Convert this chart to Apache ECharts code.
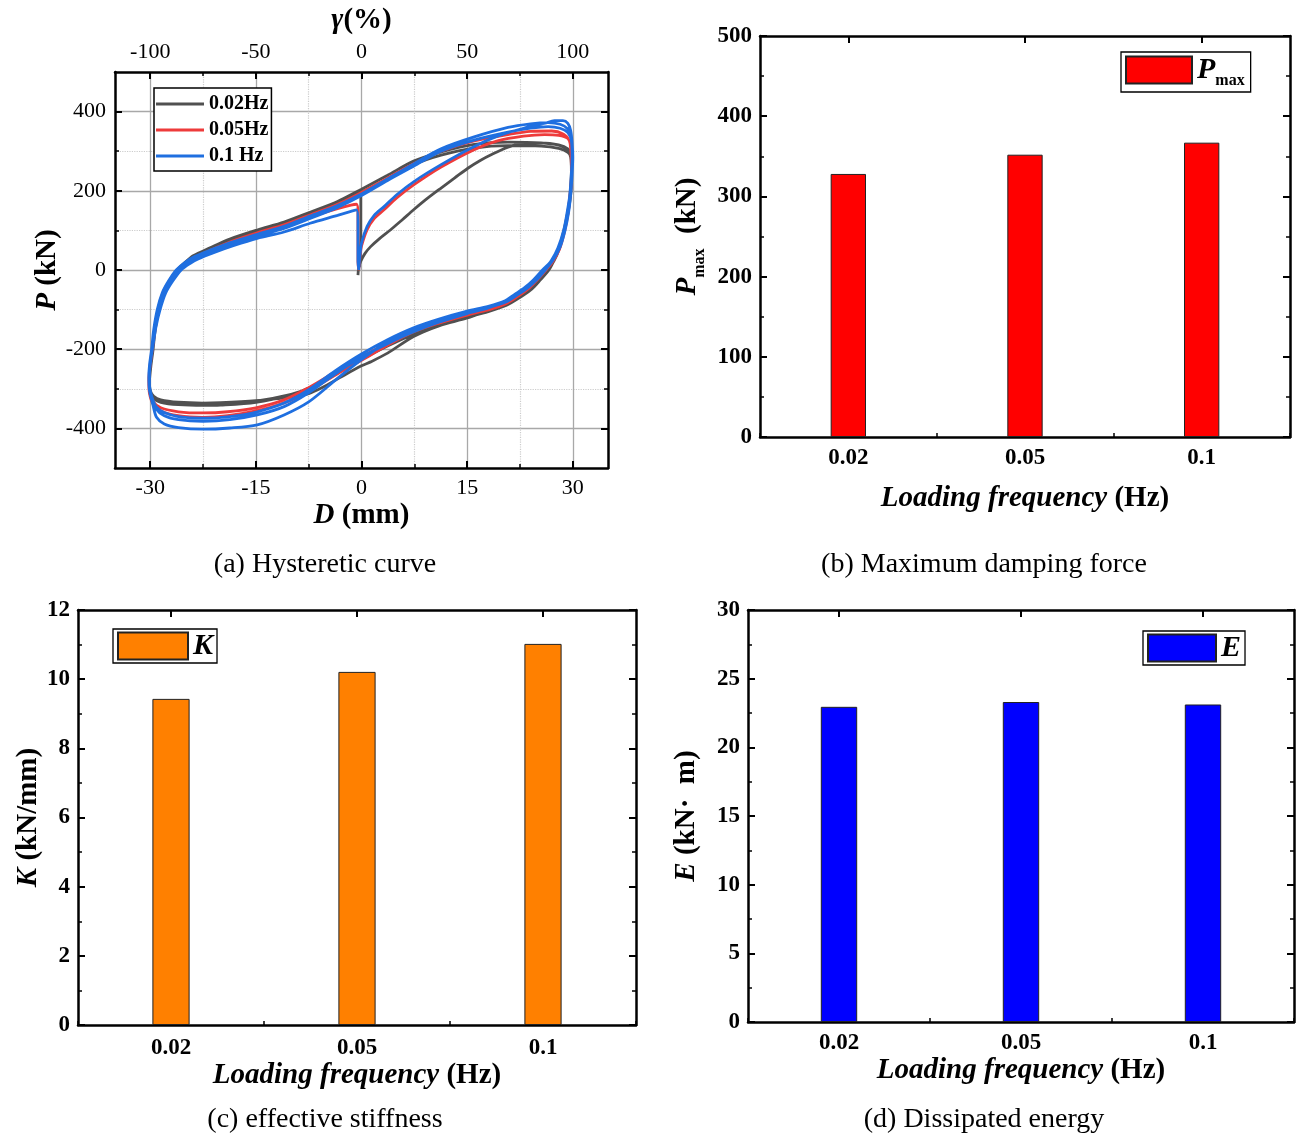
<!DOCTYPE html>
<html>
<head>
<meta charset="utf-8">
<script src="https://cdn.jsdelivr.net/npm/echarts@6/dist/echarts.min.js"></script>
<style>html,body{margin:0;padding:0;background:#fff}#c{width:1296px;height:1135px}</style>
</head>
<body>
<div id="c"></div>
<script>
// ---------- data ----------
const freqCategories = ['0.02', '0.05', '0.1'];
const pmaxValues = [328, 352, 367];
const kValues = [9.43, 10.21, 11.02];
const eValues = [22.95, 23.3, 23.12];

const dTicks = [-30, -15, 0, 15, 30];
const dMinorTicks = [-22.5, -7.5, 7.5, 22.5];
const pTicks = [-400, -200, 0, 200, 400];
const pMinorTicks = [-300, -100, 100, 300];

// hysteresis curves [D (mm), P (kN)]
const gray02 = [
[-0.5,-13],[-0.4,5],[-0.1,22],[0.5,42],[1.3,59],[2.6,80],[4.1,101],[5.8,127],[7.4,152],[9.3,180],[11.3,207],[13.2,232],[15.1,257],[16.8,276],[18.4,291],[20.8,310],[22.8,319],[25.5,321],[28,316],[29.3,306],[29.7,292],
[29.8,262],[29.8,222],[29.6,182],[29.3,142],[28.8,102],[28.2,62],[27.4,27],[26.6,0],[25.4,-25],[24.2,-48],[22.8,-66],[20.8,-86],[18,-102],[15,-121],[11,-141],[7.4,-168],[3.7,-210],[1.3,-232],[0,-242],[-3,-271],[-5.5,-296],[-7.5,-312],[-10,-321],[-15,-330],[-20,-335],[-22.5,-336],[-26,-334],[-28.5,-328],[-29.5,-319],[-30,-304],
[-30.1,-280],[-29.9,-240],[-29.6,-200],[-29.3,-150],[-28.9,-100],[-28.2,-58],[-27.3,-28],[-26.2,0],[-25,20],[-23.9,36],[-21.5,56],[-18.7,78],[-14.8,101],[-11,121],[-7.3,146],[-3.4,173],[0,204],[3.7,239],[7.4,275],[11.3,298],[16,317],[20.8,323],[25.5,321],[28,315],[29.3,304],[29.7,290],
[29.8,255],[29.8,215],[29.6,175],[29.2,135],[28.7,95],[28.1,55],[27.3,22],[26.4,0],[25.2,-26],[24,-50],[22.6,-68],[20.6,-89],[18,-105],[15,-119],[11,-138],[7.4,-162],[3.7,-192],[0,-226],[-3.4,-260],[-7.3,-300],[-10,-316],[-15,-334],[-20,-341],[-22.5,-342],[-26,-340],[-28.5,-334],[-29.5,-325],[-30,-310],
[-30.1,-282],[-29.9,-242],[-29.6,-202],[-29.3,-152],[-28.8,-102],[-28.1,-60],[-27.2,-29],[-26,0],[-24.8,19],[-23.7,34],[-21.3,53],[-18.5,74],[-14.8,96],[-11,115],[-7.3,139],[-3.4,167],[0,196],[3.7,230],[7.4,266],[11.3,290],[16,308],[20.8,314],[25.5,313],[28,307],[29.3,297],[29.7,285],
[29.8,250],[29.7,210],[29.5,170],[29.1,130],[28.6,90],[28,52],[27.2,20],[26.3,0],[25.1,-26],[23.9,-50],[22.5,-69],[20.5,-88],[18,-103],[15,-117],[11,-136],[7.4,-158],[3.7,-188],[0,-222],[-3.4,-256],[-7.3,-297],[-10,-314],[-15,-331],[-20,-338],[-22.5,-339],[-26,-337],[-28.5,-331],[-29.5,-322],[-30,-307],
[-30.1,-281],[-29.9,-241],[-29.6,-201],[-29.3,-151],[-28.8,-101],[-28.1,-59],[-27.2,-28],[-26.1,0],[-24.9,19],[-23.8,35],[-21.4,54],[-18.6,76],[-14.8,98],[-11,118],[-7.3,142],[-3.4,170],[-0.1,198],
[-0.1,150],[-0.1,90],[-0.2,30],[-0.3,8]
];
const red05 = [
[-0.4,0],[-0.2,35],[0,60],[0.8,102],[1.8,130],[3.2,152],[5,182],[7.5,216],[11.3,260],[16,304],[19.3,326],[23,338],[26,342],[28,340],[29.3,332],[29.7,315],
[29.8,280],[29.8,235],[29.6,190],[29.3,145],[28.8,100],[28.1,55],[27.2,22],[26.2,0],[25,-24],[23.8,-46],[22.4,-64],[20.6,-84],[18,-100],[15,-114],[11,-134],[7.4,-156],[3.7,-190],[0,-228],[-3.4,-262],[-7.5,-306],[-11,-336],[-15,-356],[-19,-368],[-22.5,-372],[-26,-368],[-28.5,-356],[-29.6,-338],[-30.1,-312],
[-30.2,-280],[-30,-240],[-29.7,-200],[-29.3,-150],[-28.8,-100],[-28,-58],[-27,-28],[-25.9,0],[-24.7,18],[-23.6,32],[-21.2,52],[-18.5,72],[-14.8,94],[-11,114],[-7.3,139],[-3.4,166],[0,196],[3.7,232],[7.4,268],[11.3,300],[16,326],[20.8,342],[24,350],[27,351],[28.7,343],[29.5,327],[29.7,305],
[29.8,265],[29.8,225],[29.6,185],[29.3,140],[28.8,95],[28.1,52],[27.1,20],[26.1,0],[24.9,-25],[23.7,-47],[22.3,-65],[20.5,-85],[18,-101],[15,-112],[11,-131],[7.4,-152],[3.7,-184],[0,-220],[-3.4,-254],[-7.5,-297],[-11,-328],[-15,-348],[-19,-358],[-22.5,-361],[-26,-358],[-28.5,-348],[-29.6,-332],[-30.1,-308],
[-30.2,-278],[-30,-238],[-29.7,-198],[-29.3,-148],[-28.8,-98],[-28,-56],[-27,-26],[-25.8,0],[-24.6,17],[-23.5,30],[-21.1,50],[-18.4,70],[-14.8,91],[-11,111],[-7.3,134],[-3.4,155],[-1.5,164],[-0.7,166],
[-0.5,140],[-0.5,80],[-0.5,20],[-0.4,0]
];
const blue10 = [
[-0.4,0],[-0.2,40],[0,68],[0.8,110],[1.8,138],[3.2,160],[5,190],[7.5,224],[11.3,266],[16,312],[19.3,338],[23,358],[26,370],[27.4,377],[28.6,377],[29.3,370],[29.7,352],[29.9,322],
[30,285],[29.9,240],[29.7,190],[29.4,145],[28.9,100],[28.2,58],[27.2,25],[26.1,0],[24.8,-26],[23.6,-45],[22.2,-62],[20.6,-80],[18,-95],[15,-108],[11,-128],[7.4,-150],[3.7,-182],[0,-226],[-3.7,-278],[-7.5,-333],[-11,-366],[-14.8,-391],[-18.7,-399],[-22.5,-402],[-26,-398],[-28,-389],[-29.1,-372],[-29.6,-342],[-30.1,-305],
[-30.2,-270],[-30.1,-240],[-29.8,-200],[-29.5,-150],[-29,-100],[-28.3,-58],[-27.4,-28],[-26.3,0],[-25,20],[-23.7,34],[-21.2,52],[-18.5,70],[-14.8,90],[-11,110],[-7.3,136],[-3.4,163],[0,192],[3.7,230],[7.4,268],[11.3,306],[16,336],[20.8,360],[24,369],[26.5,372],[28.2,368],[29.3,356],[29.8,335],
[29.9,290],[29.8,245],[29.6,195],[29.3,150],[28.8,104],[28,60],[27,25],[25.9,0],[24.6,-24],[23.4,-43],[22,-60],[20.4,-78],[18,-92],[15,-104],[11,-124],[7.4,-146],[3.7,-176],[0,-212],[-3.7,-254],[-7.5,-302],[-11,-336],[-14.8,-358],[-18.7,-370],[-22.5,-374],[-26,-370],[-28,-360],[-29.2,-344],[-29.8,-318],[-30.1,-290],
[-30.1,-260],[-29.9,-225],[-29.6,-190],[-29.2,-145],[-28.7,-100],[-28,-58],[-27,-28],[-25.9,0],[-24.6,19],[-23.5,32],[-21,50],[-18.3,68],[-14.8,86],[-11,105],[-7.3,130],[-3.4,158],[0,188],[3.7,226],[7.4,262],[11.3,300],[16,328],[20.8,348],[24,358],[26.5,362],[28.2,358],[29.3,347],[29.8,326],
[29.9,285],[29.8,240],[29.6,192],[29.2,146],[28.7,100],[27.9,56],[26.9,22],[25.7,0],[24.4,-25],[23.2,-44],[21.8,-61],[20.2,-80],[18,-96],[15,-110],[11,-132],[7.4,-156],[3.7,-186],[0,-220],[-3.7,-262],[-7.5,-310],[-11,-345],[-14.8,-366],[-18.7,-378],[-22.5,-382],[-26,-378],[-28,-368],[-29.2,-350],[-29.8,-322],[-30.1,-292],
[-30.1,-262],[-29.9,-226],[-29.6,-190],[-29.2,-145],[-28.6,-100],[-27.8,-58],[-26.8,-28],[-25.6,0],[-24.3,17],[-23.2,28],[-20.8,45],[-18.1,62],[-14.8,80],[-11,96],[-7.3,118],[-3.4,138],[-1.5,148],[-0.7,152],
[-0.5,120],[-0.5,70],[-0.5,25],[-0.4,2]
];

// ---------- style helpers ----------
const FONT = '"Liberation Serif","Times New Roman",serif';
const K = '#000';
const rich = {
  i: {fontFamily: FONT, fontSize: 29, fontWeight: 'bold', fontStyle: 'italic', color: K, lineHeight: 32},
  b: {fontFamily: FONT, fontSize: 29, fontWeight: 'bold', color: K, lineHeight: 32},
  p: {fontFamily: FONT, fontSize: 29, fontWeight: 'bold', fontStyle: 'italic', color: K, lineHeight: 40},
  pb: {fontFamily: FONT, fontSize: 29, fontWeight: 'bold', color: K, lineHeight: 40},
  s: {fontFamily: FONT, fontSize: 16, fontWeight: 'bold', color: K, lineHeight: 14, verticalAlign: 'bottom'}
};
const lineAx = (w) => ({show: true, onZero: false, lineStyle: {color: K, width: w}});

const xAxes = [];
const yAxes = [];

// ---- panel (a): hysteretic curve ----
const aX = {min: -35, max: 35};
const aY = {min: -500, max: 500};
xAxes.push({gridIndex: 0, type: 'value', ...aX, position: 'bottom',
  axisLine: lineAx(2.5),
  axisTick: {show: true, inside: true, length: 7, customValues: dTicks, lineStyle: {color: K, width: 2}},
  axisLabel: {show: true, customValues: dTicks, margin: 9, color: K, fontFamily: FONT, fontSize: 22},
  splitLine: {show: true, lineStyle: {color: '#a8a8a8', width: 1.3}},
  name: '{i|D }{b|(mm)}', nameLocation: 'middle', nameGap: 32, nameTextStyle: {rich}});
xAxes.push({gridIndex: 0, type: 'value', ...aX, position: 'bottom',
  axisLine: {show: false, onZero: false},
  axisTick: {show: true, inside: true, length: 4, customValues: dMinorTicks, lineStyle: {color: K, width: 1.5}},
  axisLabel: {show: false, customValues: dMinorTicks},
  splitLine: {show: true, lineStyle: {color: '#cccccc', width: 1.2, type: 'dotted'}}});
xAxes.push({gridIndex: 0, type: 'value', ...aX, position: 'top',
  axisLine: lineAx(2.5),
  axisTick: {show: true, inside: true, length: 7, customValues: dTicks, lineStyle: {color: K, width: 2}},
  axisLabel: {show: true, customValues: dTicks, margin: 9, color: K, fontFamily: FONT, fontSize: 22,
    formatter: v => String(Math.round(v * 10 / 3))},
  splitLine: {show: false},
  name: '{i|γ}{b|(%)}', nameLocation: 'middle', nameGap: 35, nameTextStyle: {rich}});
xAxes.push({gridIndex: 0, type: 'value', ...aX, position: 'top',
  axisLine: {show: false, onZero: false},
  axisTick: {show: true, inside: true, length: 4, customValues: dMinorTicks, lineStyle: {color: K, width: 1.5}},
  axisLabel: {show: false, customValues: dMinorTicks},
  splitLine: {show: false}});
yAxes.push({gridIndex: 0, type: 'value', ...aY, position: 'left',
  axisLine: lineAx(2.5),
  axisTick: {show: true, inside: true, length: 7, customValues: pTicks, lineStyle: {color: K, width: 2}},
  axisLabel: {show: true, customValues: pTicks, margin: 9, color: K, fontFamily: FONT, fontSize: 22},
  splitLine: {show: true, lineStyle: {color: '#a8a8a8', width: 1.3}},
  name: '{i|P }{b|(kN)}', nameLocation: 'middle', nameGap: 45, nameRotate: 90, nameTextStyle: {rich}});
yAxes.push({gridIndex: 0, type: 'value', ...aY, position: 'left',
  axisLine: {show: false, onZero: false},
  axisTick: {show: true, inside: true, length: 4, customValues: pMinorTicks, lineStyle: {color: K, width: 1.5}},
  axisLabel: {show: false, customValues: pMinorTicks},
  splitLine: {show: true, lineStyle: {color: '#cccccc', width: 1.2, type: 'dotted'}}});
yAxes.push({gridIndex: 0, type: 'value', ...aY, position: 'right',
  axisLine: lineAx(2.5),
  axisTick: {show: true, inside: true, length: 7, customValues: pTicks, lineStyle: {color: K, width: 2}},
  axisLabel: {show: false, customValues: pTicks},
  splitLine: {show: false}});
yAxes.push({gridIndex: 0, type: 'value', ...aY, position: 'right',
  axisLine: {show: false, onZero: false},
  axisTick: {show: true, inside: true, length: 4, customValues: pMinorTicks, lineStyle: {color: K, width: 1.5}},
  axisLabel: {show: false, customValues: pMinorTicks},
  splitLine: {show: false}});

// ---- bar panels ----
function barPanel(gi, yMax, yInt, yName, yGap, xGap, xMargin) {
  const xi = xAxes.length;
  const yi = yAxes.length;
  xAxes.push({gridIndex: gi, type: 'category', data: freqCategories, position: 'bottom',
    axisLine: lineAx(2.5),
    axisTick: {show: true, inside: true, alignWithLabel: true, length: 7, lineStyle: {color: K, width: 2}},
    axisLabel: {show: true, margin: xMargin, color: K, fontFamily: FONT, fontSize: 23, fontWeight: 'bold'},
    splitLine: {show: false},
    name: '{i|Loading frequency }{b|(Hz)}', nameLocation: 'middle', nameGap: xGap, nameTextStyle: {rich}});
  xAxes.push({gridIndex: gi, type: 'category', data: freqCategories, position: 'bottom',
    axisLine: {show: false, onZero: false},
    axisTick: {show: true, inside: true, length: 4, lineStyle: {color: K, width: 1.5}},
    axisLabel: {show: false}, splitLine: {show: false}});
  xAxes.push({gridIndex: gi, type: 'category', data: freqCategories, position: 'top',
    axisLine: lineAx(2.5),
    axisTick: {show: true, inside: true, alignWithLabel: true, length: 7, lineStyle: {color: K, width: 2}},
    axisLabel: {show: false}, splitLine: {show: false}});
  const yCommon = {gridIndex: gi, type: 'value', min: 0, max: yMax, interval: yInt,
    axisLine: lineAx(2.5),
    axisTick: {show: true, inside: true, length: 7, lineStyle: {color: K, width: 2}},
    minorTick: {show: true, splitNumber: 2, length: 4, lineStyle: {color: K, width: 1.5}},
    splitLine: {show: false}, minorSplitLine: {show: false}};
  yAxes.push(Object.assign({}, yCommon, {position: 'left',
    axisLabel: {show: true, margin: 8, color: K, fontFamily: FONT, fontSize: 23, fontWeight: 'bold'},
    name: yName, nameLocation: 'middle', nameGap: yGap, nameRotate: 90, nameTextStyle: {rich}}));
  yAxes.push(Object.assign({}, yCommon, {position: 'right', axisLabel: {show: false}}));
  return {xi, yi};
}
const pb = barPanel(1, 500, 100, '{p|P}{s|max}{pb|  (kN)}', 52, 46, 10);
const pc = barPanel(2, 12, 2, '{i|K }{b|(kN/mm)}', 33, 27, 12);
const pd = barPanel(3, 30, 5, '{i|E }{b|(kN·  m)}', 45, 27, 10);

const lineSeries = (name, data, color, z) => ({
  type: 'line', name, data, xAxisIndex: 0, yAxisIndex: 0,
  showSymbol: false, symbol: 'none', smooth: 0.3, z,
  lineStyle: {color, width: 2.8}, itemStyle: {color}
});
const barSeries = (name, data, color, p) => ({
  type: 'bar', name, data, xAxisIndex: p.xi, yAxisIndex: p.yi, barWidth: '20%',
  itemStyle: {color, borderColor: '#222', borderWidth: 1}
});

const legendText = {fontFamily: FONT, fontSize: 20, fontWeight: 'bold', color: K};
const barLegend = (name, left, top, w, h, fmt, pad) => ({
  data: [name], left, top, orient: 'vertical', icon: 'rect', itemWidth: w, itemHeight: h,
  selectedMode: false, backgroundColor: '#fff', borderColor: K, borderWidth: 1.3, borderRadius: 0,
  padding: pad, formatter: fmt,
  textStyle: {color: K, rich: {
    p: {fontFamily: FONT, fontSize: 30, fontWeight: 'bold', fontStyle: 'italic', color: K, lineHeight: 38},
    s: {fontFamily: FONT, fontSize: 16, fontWeight: 'bold', color: K, lineHeight: 14, verticalAlign: 'bottom'}
  }}
});

const capStyle = {fontFamily: FONT, fontSize: 28, fill: K, textAlign: 'center', textVerticalAlign: 'middle'};
const caption = (text, x, y) => ({type: 'text', x, y, style: Object.assign({text}, capStyle)});

const option = {
  animation: false,
  backgroundColor: '#fff',
  grid: [
    {left: 115, right: 688, top: 72, bottom: 667},
    {left: 760, right: 6, top: 36, bottom: 698},
    {left: 78, right: 660, top: 610, bottom: 110},
    {left: 748, right: 2, top: 610, bottom: 113}
  ],
  xAxis: xAxes,
  yAxis: yAxes,
  legend: [
    {data: ['0.02Hz', '0.05Hz', '0.1 Hz'], left: 154, top: 88, orient: 'vertical', icon: 'rect',
     itemWidth: 48, itemHeight: 3, itemGap: 6, selectedMode: false,
     backgroundColor: '#fff', borderColor: K, borderWidth: 1.5, borderRadius: 0, padding: [6, 3, 5, 2],
     textStyle: legendText},
    barLegend('Pmax', 1121, 52, 66, 27, '{p|P}{s|max}', [3, 6, 3, 4]),
    barLegend('K', 113, 629, 70, 27, '{p|K}', [2, 4, 2, 4]),
    barLegend('E', 1143, 631, 68, 27, '{p|E}', [2, 4, 2, 4])
  ],
  series: [
    lineSeries('0.02Hz', gray02, '#505050', 2),
    lineSeries('0.05Hz', red05, '#ee3b3b', 3),
    lineSeries('0.1 Hz', blue10, '#1f6fe0', 4),
    barSeries('Pmax', pmaxValues, '#ff0000', pb),
    barSeries('K', kValues, '#ff8000', pc),
    barSeries('E', eValues, '#0000ff', pd)
  ],
  graphic: [
    caption('(a) Hysteretic curve', 325, 565),
    caption('(b) Maximum damping force', 984, 565),
    caption('(c) effective stiffness', 325, 1120),
    caption('(d) Dissipated energy', 984, 1120)
  ]
};

const chart = echarts.init(document.getElementById('c'), null, {renderer: 'canvas'});
chart.setOption(option);
</script>
</body>
</html>
